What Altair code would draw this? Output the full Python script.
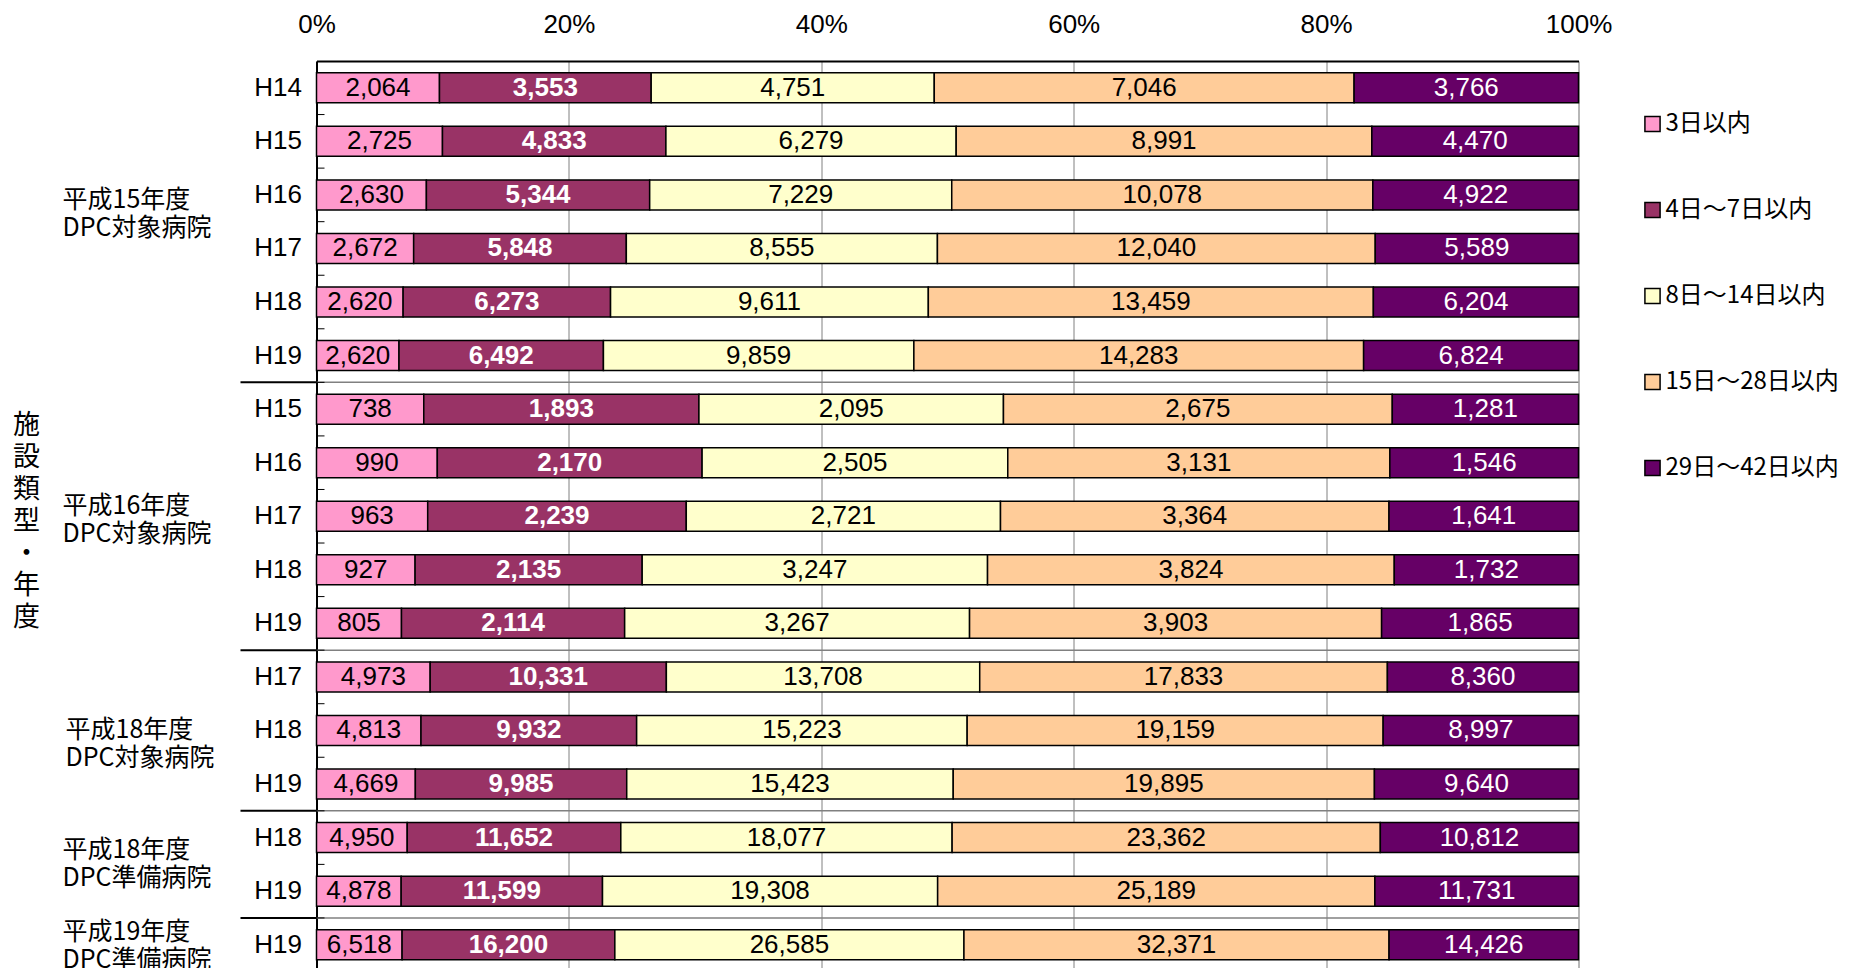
import altair as alt
import pandas as pd

categories = ["3日以内", "4日～7日以内", "8日～14日以内", "15日～28日以内", "29日～42日以内"]
colors = ["#FF99CC", "#993366", "#FFFFCC", "#FFCC99", "#660066"]

group_names = [
    "平成15年度\nDPC対象病院",
    "平成16年度\nDPC対象病院",
    "平成18年度\nDPC対象病院",
    "平成18年度\nDPC準備病院",
    "平成19年度\nDPC準備病院",
]
row_group = [0, 0, 0, 0, 0, 0, 1, 1, 1, 1, 1, 2, 2, 2, 3, 3, 4]
row_year = ["H14", "H15", "H16", "H17", "H18", "H19",
            "H15", "H16", "H17", "H18", "H19",
            "H17", "H18", "H19",
            "H18", "H19",
            "H19"]

v_3 = [2064, 2725, 2630, 2672, 2620, 2620,
       738, 990, 963, 927, 805,
       4973, 4813, 4669,
       4950, 4878,
       6518]
v_4_7 = [3553, 4833, 5344, 5848, 6273, 6492,
         1893, 2170, 2239, 2135, 2114,
         10331, 9932, 9985,
         11652, 11599,
         16200]
v_8_14 = [4751, 6279, 7229, 8555, 9611, 9859,
          2095, 2505, 2721, 3247, 3267,
          13708, 15223, 15423,
          18077, 19308,
          26585]
v_15_28 = [7046, 8991, 10078, 12040, 13459, 14283,
           2675, 3131, 3364, 3824, 3903,
           17833, 19159, 19895,
           23362, 25189,
           32371]
v_29_42 = [3766, 4470, 4922, 5589, 6204, 6824,
           1281, 1546, 1641, 1732, 1865,
           8360, 8997, 9640,
           10812, 11731,
           14426]
x_ticks = [0, 0.2, 0.4, 0.6, 0.8, 1.0]

series = [v_3, v_4_7, v_8_14, v_15_28, v_29_42]
keys = [f"g{g + 1}|{y}" for g, y in zip(row_group, row_year)]

records = []
for i, k in enumerate(keys):
    for j, c in enumerate(categories):
        records.append({"row": k, "cat": c, "order": j, "value": series[j][i]})
df = pd.DataFrame(records)

W = 1262
H = 910.5
NUM_FONT = "Liberation Sans Narrow, Liberation Sans, Arial, sans-serif"
JP_FONT = "Noto Sans CJK JP"

yscale = alt.Scale(domain=keys, paddingInner=0, paddingOuter=0)


def Y(**kw):
    return alt.Y("row:N", scale=yscale, title=None, **kw)


y_main = alt.Y(
    "row:N", scale=yscale, title=None,
    axis=alt.Axis(labelExpr="split(datum.value, '|')[1]", ticks=False,
                  domainColor="black", domainWidth=2, labelFont="Liberation Sans",
                  labelFontSize=26, labelColor="black", labelPadding=15),
)

base = alt.Chart(df).transform_stack(
    stack="value", as_=["x0", "x1"], groupby=["row"],
    sort=[alt.SortField("order")], offset="normalize",
).transform_calculate(mid="(datum.x0 + datum.x1) / 2")

bars = base.mark_bar(height={"band": 0.56}, stroke="black", strokeWidth=1.5).encode(
    x=alt.X("x0:Q", scale=alt.Scale(domain=[0, 1], nice=False), title=None,
            axis=alt.Axis(orient="top", format="%", values=x_ticks, grid=True,
                          gridColor="#808080", gridWidth=1, ticks=False,
                          domainColor="black", domainWidth=2, labelFlush=False,
                          labelFont=NUM_FONT, labelFontSize=26, labelColor="black",
                          labelPadding=24)),
    x2="x1:Q",
    y=y_main,
    color=alt.Color("cat:N", scale=alt.Scale(domain=categories, range=colors),
                    legend=alt.Legend(orient="none", legendX=1324, legendY=51,
                                      title=None, symbolType="square", symbolSize=230,
                                      symbolStrokeColor="black", symbolStrokeWidth=1.5,
                                      labelFont=JP_FONT, labelFontSize=24, labelLimit=400,
                                      labelColor="black", rowPadding=62, labelOffset=1)),
)

txt_black = base.transform_filter("datum.order == 0 || datum.order == 2 || datum.order == 3").mark_text(
    font=NUM_FONT, fontSize=26, color="black", baseline="middle").encode(
    x="mid:Q", y=Y(), text=alt.Text("value:Q", format=","))
txt_bold = base.transform_filter("datum.order == 1").mark_text(
    font=NUM_FONT, fontSize=26, color="white", fontWeight="bold", baseline="middle").encode(
    x="mid:Q", y=Y(), text=alt.Text("value:Q", format=","))
txt_white = base.transform_filter("datum.order == 4").mark_text(
    font=NUM_FONT, fontSize=26, color="white", baseline="middle").encode(
    x="mid:Q", y=Y(), text=alt.Text("value:Q", format=","))

# group separators
sep_rows = [keys[i] for i in range(1, len(keys)) if row_group[i] != row_group[i - 1]]
sep_df = pd.DataFrame({"row": sep_rows})
sep_in = alt.Chart(sep_df).mark_rule(color="#808080", strokeWidth=1.5).encode(
    y=Y(bandPosition=0), x=alt.value(0), x2=alt.value(W))
sep_out = alt.Chart(sep_df).mark_rule(color="black", strokeWidth=2).encode(
    y=Y(bandPosition=0), x=alt.value(-76), x2=alt.value(0))

tick_df = pd.DataFrame({"row": keys[1:]})
ticks = alt.Chart(tick_df).mark_rule(color="black", strokeWidth=1).encode(
    y=Y(bandPosition=0), x=alt.value(0), x2=alt.value(8))

# group labels
anchors = ["g1|H16", "g2|H17", "g3|H18", "g4|H18", "g5|H19"]
offsets = [5, -10, 0, 12, -13]
xoffs = [-254, -254, -251, -254, -254]
glabels = []
for name, anc, off, xo in zip(group_names, anchors, offsets, xoffs):
    glabels.append(
        alt.Chart(pd.DataFrame({"row": [anc], "label": [name]})).mark_text(
            align="left", baseline="middle", lineBreak="\n", lineHeight=28,
            font=JP_FONT, fontSize=25, color="black", dy=off).encode(
            y=Y(), x=alt.value(xo), text="label:N"))

ytitle = alt.Chart(pd.DataFrame({"t": ["施\n設\n類\n型\n・\n年\n度"]})).mark_text(
    align="center", baseline="middle", lineBreak="\n", lineHeight=32,
    font=JP_FONT, fontSize=27, color="black").encode(
    x=alt.value(-290), y=alt.value(365), text="t:N")

chart = alt.layer(sep_in, bars, ticks, sep_out, txt_black, txt_bold, txt_white,
                  *glabels, ytitle).properties(
    width=W, height=H,
    autosize=alt.AutoSizeParams(type="none"),
    padding={"left": 308.5, "top": 53, "right": 264, "bottom": 0},
).configure_view(stroke="black", strokeWidth=2).configure(background="white")

chart.save("out.html", embed_options={"renderer": "svg", "actions": False})
